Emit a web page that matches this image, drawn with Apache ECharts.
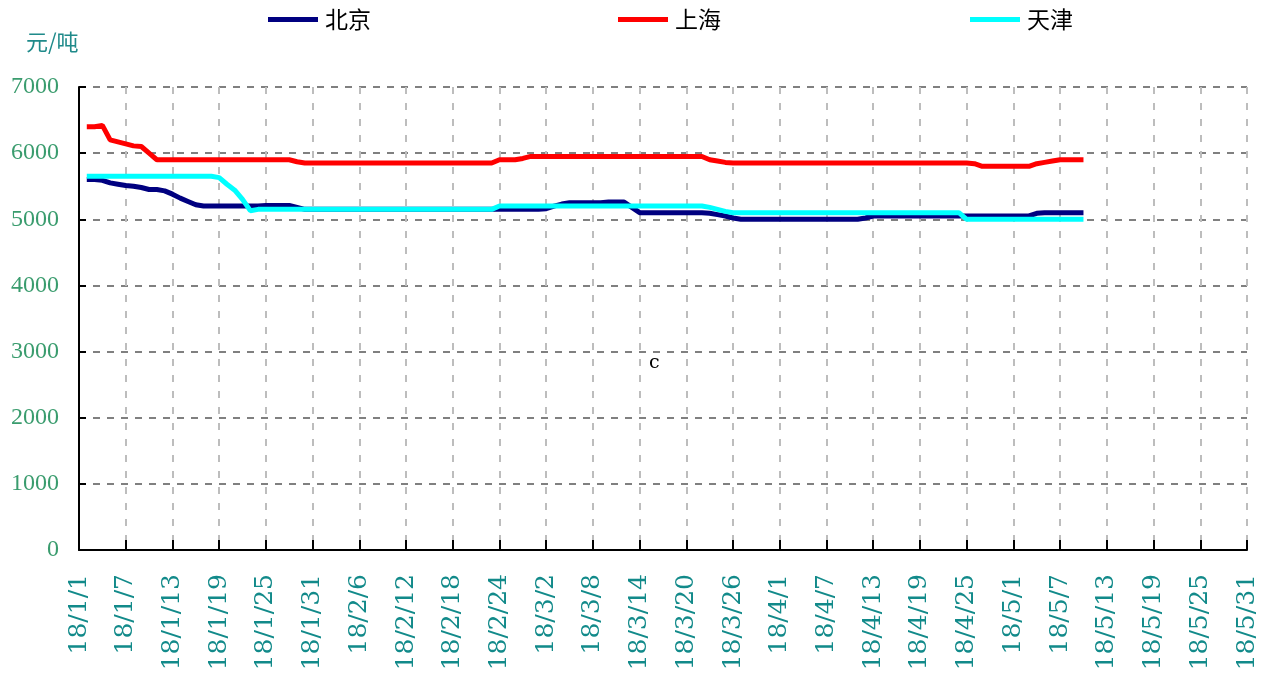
<!DOCTYPE html>
<html>
<head>
<meta charset="utf-8">
<script src="https://cdn.jsdelivr.net/npm/echarts@6/dist/echarts.min.js"></script>
<style>
html,body{margin:0;padding:0;background:#fff;}
#chart{width:1267px;height:675px;}
</style>
</head>
<body>
<div id="chart"></div>
<script>
// x categories: daily from 2018-01-01 to 2018-05-31 (label format 18/M/D)
var startDate = [2018, 0, 1];
var dayCount = 151;
var categories = [];
for (var i = 0; i < dayCount; i++) {
  var d = new Date(Date.UTC(startDate[0], startDate[1], startDate[2] + i));
  categories.push('18/' + (d.getUTCMonth() + 1) + '/' + d.getUTCDate());
}

var seriesNames = ['北京', '上海', '天津'];

// 北京 (元/吨)
var beijing = [
  // Jan
  null, 5600, 5600, 5590, 5550, 5530, 5510, 5500, 5480, 5450, 5450,
  5430, 5380, 5320, 5270, 5220,
  5200, 5200, 5200, 5200, 5200, 5200, 5200, 5200,
  5210, 5210, 5210, 5210,
  5180, 5150, 5150,
  // Feb
  5150, 5150, 5150, 5150, 5150, 5150, 5150, 5150, 5150, 5150, 5150, 5150, 5150, 5150,
  5150, 5150, 5150, 5150, 5150, 5150, 5150, 5150, 5150, 5150, 5150, 5150, 5150, 5150,
  // Mar
  5150, 5160, 5200, 5230, 5250, 5250, 5250, 5250, 5250, 5260, 5260, 5260, 5180,
  5100, 5100, 5100, 5100, 5100, 5100, 5100, 5100, 5100,
  5090, 5070, 5050, 5020, 5000, 5000, 5000, 5000, 5000,
  // Apr
  5000, 5000, 5000, 5000, 5000, 5000, 5000, 5000, 5000, 5000, 5000, 5020,
  5050, 5050, 5050, 5050, 5050, 5050, 5050, 5050, 5050, 5050, 5050, 5050,
  5050, 5050, 5050, 5050, 5050, 5050,
  // May
  5050, 5050, 5050, 5090, 5100, 5100, 5100, 5100, 5100, 5100
];

// 上海 (元/吨)
var shanghai = [
  // Jan
  null, 6400, 6400, 6420, 6200, 6170, 6140, 6110, 6100, 6000, 5900,
  5900, 5900, 5900, 5900, 5900, 5900, 5900, 5900, 5900, 5900, 5900, 5900, 5900, 5900,
  5900, 5900, 5900,
  5870, 5850, 5850,
  // Feb
  5850, 5850, 5850, 5850, 5850, 5850, 5850, 5850, 5850, 5850, 5850, 5850,
  5850, 5850, 5850, 5850, 5850, 5850, 5850, 5850, 5850, 5850, 5850,
  5900, 5900, 5900, 5920, 5950,
  // Mar
  5950, 5950, 5950, 5950, 5950, 5950, 5950, 5950, 5950, 5950, 5950,
  5950, 5950, 5950, 5950, 5950, 5950, 5950, 5950, 5950, 5950, 5950,
  5900, 5880, 5860, 5850, 5850, 5850, 5850, 5850, 5850,
  // Apr
  5850, 5850, 5850, 5850, 5850, 5850, 5850, 5850, 5850, 5850, 5850, 5850, 5850,
  5850, 5850, 5850, 5850, 5850, 5850, 5850, 5850, 5850, 5850, 5850, 5850,
  5840, 5800, 5800, 5800, 5800,
  // May
  5800, 5800, 5800, 5840, 5860, 5880, 5900, 5900, 5900, 5900
];

// 天津 (元/吨)
var tianjin = [
  // Jan
  null, 5650, 5650, 5650, 5650, 5650, 5650, 5650, 5650, 5650, 5650, 5650, 5650,
  5650, 5650, 5650, 5650, 5650,
  5630, 5530, 5440, 5300, 5130,
  5150, 5150, 5150, 5150, 5150, 5150, 5150, 5150,
  // Feb
  5150, 5150, 5150, 5150, 5150, 5150, 5150, 5150, 5150, 5150, 5150, 5150,
  5150, 5150, 5150, 5150, 5150, 5150, 5150, 5150, 5150, 5150, 5150,
  5200, 5200, 5200, 5200, 5200,
  // Mar
  5200, 5200, 5200, 5200, 5200, 5200, 5200, 5200, 5200, 5200, 5200,
  5200, 5200, 5200, 5200, 5200, 5200, 5200, 5200, 5200, 5200, 5200,
  5180, 5150, 5120, 5100, 5100, 5100, 5100, 5100, 5100,
  // Apr
  5100, 5100, 5100, 5100, 5100, 5100, 5100, 5100, 5100, 5100, 5100, 5100,
  5100, 5100, 5100, 5100, 5100, 5100, 5100, 5100, 5100, 5100, 5100, 5100,
  5000, 5000, 5000, 5000, 5000, 5000,
  // May
  5000, 5000, 5000, 5000, 5000, 5000, 5000, 5000, 5000, 5000
];

var seriesColors = ['#000080', '#ff0000', '#00ffff'];
var yTicks = [0, 1000, 2000, 3000, 4000, 5000, 6000, 7000];

var chart = echarts.init(document.getElementById('chart'), null, {renderer: 'canvas'});

function legendFor(name, left) {
  return {
    left: left, top: 8, padding: 0,
    data: [name],
    icon: 'rect',
    itemWidth: 50, itemHeight: 5,
    selectedMode: false,
    textStyle: {fontSize: 23, color: '#000', fontFamily: 'Noto Sans CJK SC', padding: [0, 0, 0, 2]}
  };
}

chart.setOption({
  animation: false,
  backgroundColor: '#ffffff',
  legend: [legendFor('北京', 268), legendFor('上海', 618), legendFor('天津', 970)],
  grid: {left: 79, right: 20, top: 87, bottom: 125, containLabel: false},
  graphic: [
    {type: 'text', left: 26, top: 31, style: {text: '元/吨', fill: '#1f8a8a', fontSize: 22, fontFamily: 'Noto Sans CJK SC'}},
    {type: 'text', left: 649, top: 354, style: {text: 'c', fill: '#000', fontSize: 19, fontFamily: 'DejaVu Serif'}}
  ],
  xAxis: {
    type: 'category',
    data: categories,
    boundaryGap: false,
    axisLine: {lineStyle: {color: '#000', width: 2}},
    axisTick: {inside: true, length: 10, interval: 5, lineStyle: {color: '#000', width: 2}},
    axisLabel: {
      interval: 5, rotate: 90, margin: 24,
      color: '#128a8a', fontSize: 25, fontFamily: 'DejaVu Serif'
    },
    splitLine: {show: true, interval: 5, lineStyle: {color: '#bdbdbd', width: 2, type: [7, 9]}}
  },
  yAxis: {
    type: 'value',
    min: yTicks[0], max: yTicks[yTicks.length - 1], interval: 1000,
    axisLine: {show: true, lineStyle: {color: '#000', width: 2}},
    axisTick: {show: true, inside: true, length: 7, lineStyle: {color: '#000', width: 2}},
    axisLabel: {
      margin: 20, color: '#3a9c6e', fontSize: 24, fontFamily: 'Liberation Serif',
      formatter: function (v) { return String(v); }
    },
    splitLine: {show: true, lineStyle: {color: '#808080', width: 2, type: [7, 7]}}
  },
  series: [
    {name: seriesNames[0], type: 'line', data: beijing, showSymbol: false, color: seriesColors[0], lineStyle: {width: 5, color: seriesColors[0]}},
    {name: seriesNames[1], type: 'line', data: shanghai, showSymbol: false, color: seriesColors[1], lineStyle: {width: 5, color: seriesColors[1]}},
    {name: seriesNames[2], type: 'line', data: tianjin, showSymbol: false, color: seriesColors[2], lineStyle: {width: 5, color: seriesColors[2]}}
  ]
});
</script>
</body>
</html>
